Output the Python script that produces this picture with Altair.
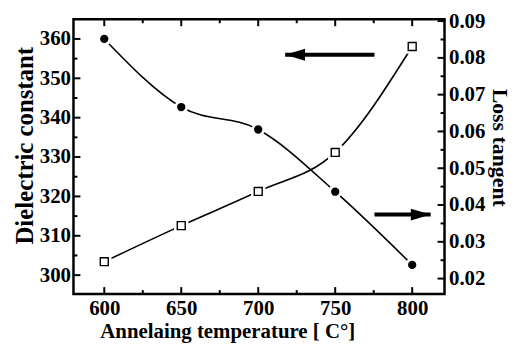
import altair as alt
import pandas as pd

# data
temperature = [600, 650, 700, 750, 800]
dielectric = [360.0, 342.7, 337.0, 321.2, 302.6]
loss_tangent = [0.0246, 0.0344, 0.0437, 0.0543, 0.0831]

x_major = [600, 650, 700, 750, 800]
x_minor = [625, 675, 725, 775]
left_major = [300, 310, 320, 330, 340, 350, 360]
left_minor = [305, 315, 325, 335, 345, 355]
right_major = [0.02, 0.03, 0.04, 0.05, 0.06, 0.07, 0.08, 0.09]
right_minor = [0.025, 0.035, 0.045, 0.055, 0.065, 0.075, 0.085]

# arrows (data units): tail, tip, level
arrow_left = {"tail": [775.5], "tip": [717.5], "level": [356.0]}
arrow_right = {"tail": [775.5], "tip": [812.0], "level": [0.0374]}

W, H = 374, 277
df = pd.DataFrame({"T": temperature, "eps": dielectric, "tan": loss_tangent})
dfl = pd.DataFrame(arrow_left)
dfr = pd.DataFrame(arrow_right)

FONT = "Liberation Serif"
LAB = dict(labelFont=FONT, labelFontSize=21, labelFontWeight="bold", labelColor="black",
           titleFont=FONT, titleFontWeight="bold", titleColor="black",
           ticks=False, domain=False, grid=False)

xscale = alt.Scale(domain=[580, 821], nice=False, zero=False)
lscale = alt.Scale(domain=[295.2, 365], nice=False, zero=False)
rscale = alt.Scale(domain=[0.0158, 0.0905], nice=False, zero=False)

x_bottom = alt.Axis(values=x_major, title="Annelaing temperature [ C°]", titleFontSize=21,
                    titleX=155, labelPadding=4, titlePadding=2, **LAB)
x_top = alt.Axis(values=x_major, title=None, orient="top", labels=False, **LAB)
y_left = alt.Axis(values=left_major, title="Dielectric constant", titleFontSize=25,
                  titleY=127, labelPadding=3, titlePadding=2, **LAB)
y_right = alt.Axis(values=right_major, title="Loss tangent", orient="right", format=".2f",
                   titleFontSize=22, titleY=129, labelPadding=4, titlePadding=3, **LAB)


def xticks(values, length, top):
    d = pd.DataFrame({"v": values})
    y0 = 0 if top else H
    y1 = length if top else H - length
    return alt.Chart(d).mark_rule(color="black", strokeWidth=2).encode(
        x=alt.X("v:Q", scale=xscale, axis=x_bottom), y=alt.value(y0), y2=alt.value(y1))


def yticks(values, length, scale, axis, right_side):
    d = pd.DataFrame({"v": values})
    x0 = W if right_side else 0
    x1 = W - length if right_side else length
    return alt.Chart(d).mark_rule(color="black", strokeWidth=2).encode(
        y=alt.Y("v:Q", scale=scale, axis=axis), x=alt.value(x0), x2=alt.value(x1))


base = alt.Chart(df)

X = alt.X("T:Q", scale=xscale, axis=x_bottom)
XT = alt.X("T:Q", scale=xscale, axis=x_top)
YL = alt.Y("eps:Q", scale=lscale, axis=y_left)
YR = alt.Y("tan:Q", scale=rscale, axis=y_right)

l_line = base.mark_line(interpolate="monotone", color="black", strokeWidth=1.6).encode(x=X, y=YL)
l_halo = base.mark_point(shape="circle", filled=True, color="white", size=190, opacity=1).encode(x=X, y=YL)
l_pts = base.mark_point(shape="circle", filled=True, color="black", size=70, opacity=1).encode(x=X, y=YL)
l_arrow = alt.Chart(dfl).mark_rule(color="black", strokeWidth=4).encode(
    x=alt.X("tail:Q", scale=xscale, axis=x_bottom), x2="tip:Q",
    y=alt.Y("level:Q", scale=lscale, axis=y_left))
l_head = alt.Chart(dfl).mark_point(shape="M-1,0L1,-0.6L1,0.6Z", filled=True, color="black",
                                   size=400, opacity=1, xOffset=10).encode(
    x=alt.X("tip:Q", scale=xscale, axis=x_bottom),
    y=alt.Y("level:Q", scale=lscale, axis=y_left))
left = alt.layer(
    l_line, l_halo, l_pts, l_arrow, l_head,
    xticks(x_major, 7, False), xticks(x_minor, 4, False),
    xticks(x_major, 7, True), xticks(x_minor, 4, True),
    yticks(left_major, 7, lscale, y_left, False), yticks(left_minor, 4, lscale, y_left, False),
)

r_line = base.mark_line(interpolate="monotone", color="black", strokeWidth=1.6).encode(x=XT, y=YR)
r_halo = base.mark_point(shape="square", filled=True, color="white", size=210, opacity=1).encode(x=XT, y=YR)
r_pts = base.mark_point(shape="square", filled=True, fill="white", stroke="black", strokeWidth=1.4,
                        size=64, opacity=1).encode(x=XT, y=YR)
r_arrow = alt.Chart(dfr).mark_rule(color="black", strokeWidth=4).encode(
    x=alt.X("tail:Q", scale=xscale, axis=x_top), x2="tip:Q",
    y=alt.Y("level:Q", scale=rscale, axis=y_right))
r_head = alt.Chart(dfr).mark_point(shape="M1,0L-1,-0.6L-1,0.6Z", filled=True, color="black",
                                   size=400, opacity=1, xOffset=-10).encode(
    x=alt.X("tip:Q", scale=xscale, axis=x_top),
    y=alt.Y("level:Q", scale=rscale, axis=y_right))
right = alt.layer(
    r_line, r_halo, r_pts, r_arrow, r_head,
    yticks(right_major, 7, rscale, y_right, True), yticks(right_minor, 4, rscale, y_right, True),
)

chart = (
    alt.layer(left, right)
    .resolve_scale(y="independent")
    .resolve_axis(x="independent")
    .properties(width=W, height=H, padding={"left": 4, "top": 0, "right": 0, "bottom": 0},
                background="white")
    .configure_view(stroke="black", strokeWidth=2.5)
    .configure_axis(labelFont=FONT, labelFontSize=21, labelFontWeight="bold", labelColor="black")
)

chart.save("out.html", embed_options={"renderer": "svg", "actions": False})
